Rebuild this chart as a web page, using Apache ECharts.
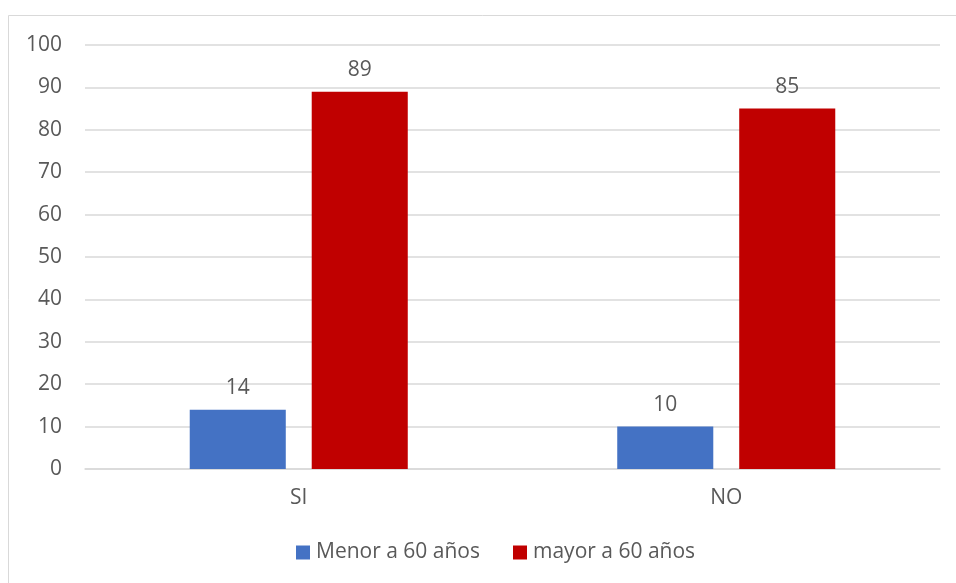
<!DOCTYPE html>
<html>
<head>
<meta charset="utf-8">
<script src="https://cdn.jsdelivr.net/npm/echarts@6/dist/echarts.min.js"></script>
<style>
  html, body { margin: 0; padding: 0; background: #fff; }
  #chart { width: 956px; height: 583px; }
</style>
</head>
<body>
<div id="chart"></div>
<script>
// Respuestas por grupo de edad
var categories = ['SI', 'NO'];
var seriesNames = ['Menor a 60 años', 'mayor a 60 años'];
var menor60 = [14, 10];
var mayor60 = [89, 85];
var yTicks = [0, 10, 20, 30, 40, 50, 60, 70, 80, 90, 100];

var textColor = '#595959';
var fontFamily = "'Open Sans', 'Noto Sans', sans-serif";
var fontSize = 21;

var chart = echarts.init(document.getElementById('chart'));

var labelStyle = {
  show: true,
  position: 'top',
  distance: 11,
  color: textColor,
  fontSize: fontSize,
  fontFamily: fontFamily
};

chart.setOption({
  animation: false,
  backgroundColor: '#ffffff',
  textStyle: { fontFamily: fontFamily },
  graphic: [{
    type: 'rect',
    shape: { x: 8.5, y: 15.5, width: 960, height: 620 },
    style: { fill: 'none', stroke: '#d9d9d9', lineWidth: 1 },
    silent: true,
    z: -1
  }],
  grid: { left: 85, right: 16, top: 45, bottom: 114, containLabel: false },
  legend: {
    bottom: 15,
    left: 291,
    itemWidth: 14,
    itemHeight: 14,
    itemGap: 33,
    icon: 'rect',
    textStyle: { color: textColor, fontSize: fontSize, fontFamily: fontFamily, padding: [0, 0, 0, 1] },
    data: seriesNames
  },
  xAxis: {
    type: 'category',
    data: categories,
    axisLine: { show: true, lineStyle: { color: '#d9d9d9', width: 1.5 } },
    axisTick: { show: false },
    axisLabel: { color: textColor, fontSize: fontSize, fontFamily: fontFamily, margin: 19 }
  },
  yAxis: {
    type: 'value',
    min: yTicks[0],
    max: yTicks[yTicks.length - 1],
    interval: yTicks[1] - yTicks[0],
    axisLine: { show: false },
    axisTick: { show: false },
    splitLine: { lineStyle: { color: '#d9d9d9', width: 1.5 } },
    axisLabel: { color: textColor, fontSize: fontSize, fontFamily: fontFamily, margin: 23 }
  },
  series: [
    {
      name: seriesNames[0],
      type: 'bar',
      data: menor60,
      barGap: '27%',
      barCategoryGap: '49%',
      itemStyle: { color: '#4472c4' },
      label: labelStyle
    },
    {
      name: seriesNames[1],
      type: 'bar',
      data: mayor60,
      barGap: '27%',
      barCategoryGap: '49%',
      itemStyle: { color: '#c00000' },
      label: labelStyle
    }
  ]
});
</script>
</body>
</html>
